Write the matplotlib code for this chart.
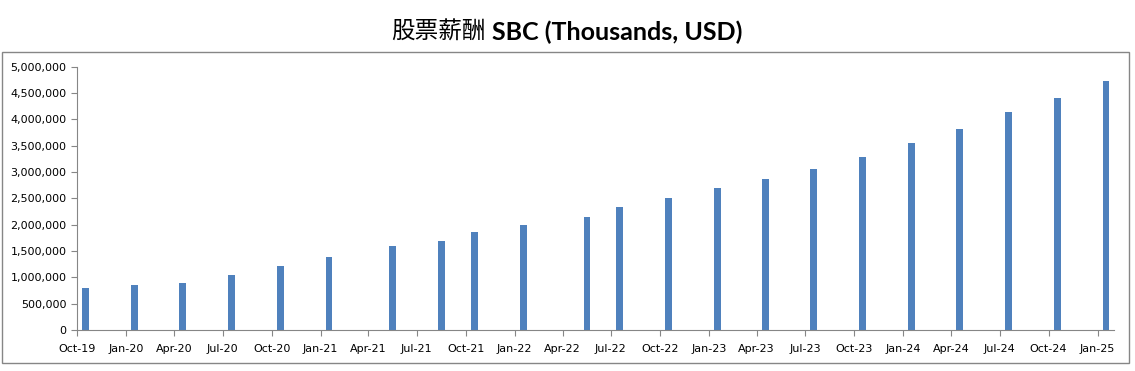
import matplotlib.pyplot as plt
import matplotlib.dates as mdates
from matplotlib.patches import Rectangle
from matplotlib.ticker import FuncFormatter
import numpy as np
import datetime as dt

# reporting dates and stock based compensation (thousands USD)
dates = ["2019-10-17", "2020-01-17", "2020-04-17", "2020-07-17", "2020-10-17",
         "2021-01-17", "2021-05-17", "2021-08-17", "2021-10-17", "2022-01-17",
         "2022-05-17", "2022-07-17", "2022-10-17", "2023-01-17", "2023-04-17",
         "2023-07-17", "2023-10-17", "2024-01-17", "2024-04-17", "2024-07-17",
         "2024-10-17", "2025-01-17"]
sbc = [790000, 846000, 884000, 1036000, 1206000,
       1395000, 1604000, 1699000, 1870000, 2002000,
       2154000, 2343000, 2514000, 2703000, 2874000,
       3063000, 3290000, 3555000, 3820000, 4142000,
       4407000, 4729000]

x = [dt.datetime.strptime(d, "%Y-%m-%d") for d in dates]

fig = plt.figure(figsize=(11.35, 3.71), dpi=100)
ax = fig.add_axes([0.0678, 0.1105, 0.9137, 0.7097])

ax.bar(x, sbc, width=13, color="#4F81BD", align="center")

ax.set_xlim(dt.datetime(2019, 10, 1), dt.datetime(2025, 2, 1))
ax.set_ylim(0, 5000000)
ax.set_yticks(np.arange(0, 5000001, 500000))
ax.yaxis.set_major_formatter(FuncFormatter(lambda v, p: f"{int(v):,}"))

ax.xaxis.set_major_locator(mdates.MonthLocator(bymonth=[1, 4, 7, 10]))
ax.xaxis.set_major_formatter(mdates.DateFormatter("%b-%y"))

for s in ["top", "right"]:
    ax.spines[s].set_visible(False)
for s in ["left", "bottom"]:
    ax.spines[s].set_color("#868686")
ax.tick_params(axis="both", colors="#868686", labelcolor="black",
               labelsize=8, length=4, direction="out")
ax.tick_params(axis="x", pad=6)

# chart border
fig.patches.append(Rectangle((2 / 1135, 1 - 363 / 371), 1127 / 1135, 311 / 371,
                             transform=fig.transFigure, fill=False,
                             edgecolor="#868686", linewidth=1))

fig.text(0.428, 0.912, "股票薪酬", ha="right", va="center",
         fontsize=17, family=["Noto Sans CJK SC", "DejaVu Sans"])
fig.text(0.4335, 0.912, "SBC (Thousands, USD)", ha="left", va="center",
         fontsize=18, fontweight="bold", family="Lato")

fig.savefig("out.png", dpi=100)
